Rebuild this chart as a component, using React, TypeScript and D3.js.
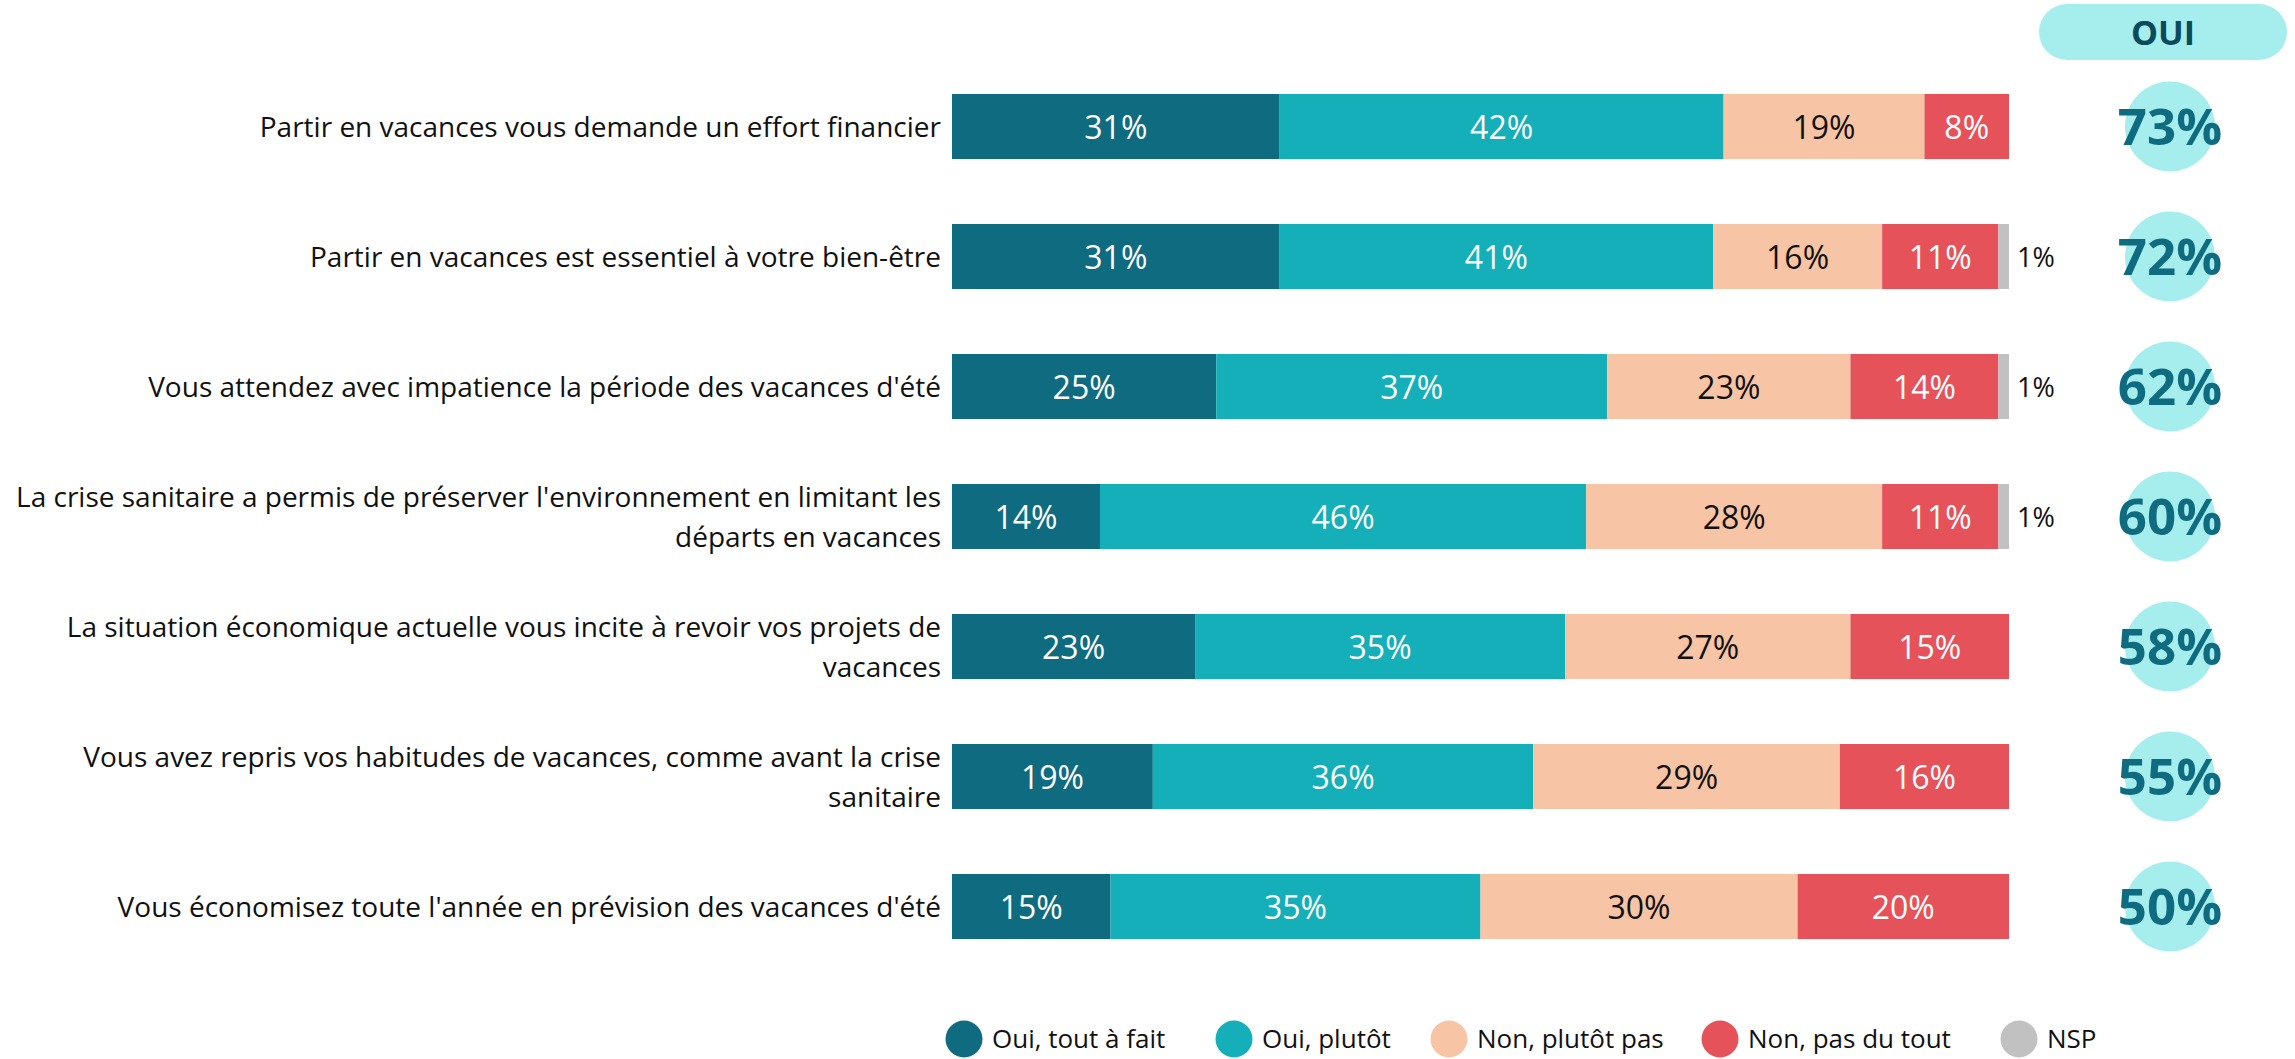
import React, { useEffect, useRef } from 'react';
import * as d3 from 'd3';

// categories (lines split where the original wraps)
const categories = [
  ['Partir en vacances vous demande un effort financier'],
  ['Partir en vacances est essentiel à votre bien-être'],
  ["Vous attendez avec impatience la période des vacances d'été"],
  ["La crise sanitaire a permis de préserver l'environnement en limitant les", 'départs en vacances'],
  ['La situation économique actuelle vous incite à revoir vos projets de', 'vacances'],
  ['Vous avez repris vos habitudes de vacances, comme avant la crise', 'sanitaire'],
  ["Vous économisez toute l'année en prévision des vacances d'été"],
];

const seriesNames = ['Oui, tout à fait', 'Oui, plutôt', 'Non, plutôt pas', 'Non, pas du tout', 'NSP'];
const ouiToutAFait = [31, 31, 25, 14, 23, 19, 15];
const ouiPlutot = [42, 41, 37, 46, 35, 36, 35];
const nonPlutotPas = [19, 16, 23, 28, 27, 29, 30];
const nonPasDuTout = [8, 11, 14, 11, 15, 16, 20];
const nsp = [0, 1, 1, 1, 0, 0, 0];
const ouiTotal = [73, 72, 62, 60, 58, 55, 50];

const colors = ['#0f6b80', '#14afb8', '#f7c4a5', '#e6525a', '#c1c1c1'];
const labelColors = ['#ffffff', '#ffffff', '#111111', '#ffffff', '#111111'];
const FONT = "'Open Sans', 'Noto Sans', sans-serif";

export default function App() {
  const ref = useRef<SVGSVGElement>(null);

  useEffect(() => {
    const width = 2295;
    const height = 1059;
    const svg = d3.select(ref.current);
    svg.selectAll('*').remove();
    svg.attr('width', width).attr('height', height);

    const values = [ouiToutAFait, ouiPlutot, nonPlutotPas, nonPasDuTout, nsp];
    const rows = categories.map((c, i) => {
      const r: any = { i };
      values.forEach((v, k) => (r['s' + k] = v[i]));
      return r;
    });
    const keys = values.map((_, k) => 's' + k);
    const stacked = d3.stack().keys(keys)(rows);

    const x = d3.scaleLinear().domain([0, 100]).range([952, 2009]);
    const y = d3.scaleBand<number>()
      .domain(d3.range(categories.length))
      .range([61.5, 971.5])
      .paddingInner(0.5)
      .paddingOuter(0.25);
    const bw = y.bandwidth();

    // bars
    const layer = svg.selectAll('.layer')
      .data(stacked)
      .enter().append('g')
      .attr('class', 'layer')
      .attr('fill', (d, k) => colors[k]);

    layer.selectAll('rect')
      .data(d => d.filter(s => s[1] - s[0] > 0))
      .enter().append('rect')
      .attr('x', d => x(d[0]))
      .attr('y', d => y((d as any).data.i)!)
      .attr('width', d => x(d[1]) - x(d[0]))
      .attr('height', bw);

    // labels inside the segments
    stacked.forEach((s, k) => {
      svg.append('g').selectAll('text')
        .data(s.filter(d => d[1] - d[0] >= 2))
        .enter().append('text')
        .attr('x', d => (x(d[0]) + x(d[1])) / 2)
        .attr('y', d => y((d as any).data.i)! + bw / 2 + 12)
        .attr('text-anchor', 'middle')
        .attr('font-family', FONT)
        .attr('font-size', 32)
        .attr('fill', labelColors[k])
        .text(d => (d[1] - d[0]) + '%');
    });

    // small NSP values written to the right
    const last = stacked[stacked.length - 1];
    svg.append('g').selectAll('text')
      .data(last.filter(d => d[1] - d[0] > 0 && d[1] - d[0] < 2))
      .enter().append('text')
      .attr('x', d => x(d[1]) + 8)
      .attr('y', d => y((d as any).data.i)! + bw / 2 + 10)
      .attr('font-family', FONT)
      .attr('font-size', 27)
      .attr('fill', '#111')
      .text(d => (d[1] - d[0]) + '%');

    // category labels
    const cat = svg.append('g').selectAll('text')
      .data(categories)
      .enter().append('text')
      .attr('text-anchor', 'end')
      .attr('font-family', FONT)
      .attr('font-size', 28)
      .attr('fill', '#111');
    cat.each(function (lines, i) {
      const t = d3.select(this);
      const base = y(i)! + bw / 2 + 10.5 - (lines.length - 1) * 20;
      lines.forEach((l, j) => {
        t.append('tspan').attr('x', 941).attr('y', base + j * 40).text(l);
      });
    });

    // "OUI" header pill
    svg.append('rect')
      .attr('x', 2039).attr('y', 4)
      .attr('width', 248).attr('height', 56)
      .attr('rx', 28)
      .attr('fill', '#a6eeee');
    svg.append('text')
      .attr('x', 2163).attr('y', 45)
      .attr('text-anchor', 'middle')
      .attr('font-family', FONT)
      .attr('font-weight', 'bold')
      .attr('font-size', 34)
      .attr('fill', '#0b4a5a')
      .text('OUI');

    // totals in circles
    const tot = svg.append('g').selectAll('g')
      .data(ouiTotal)
      .enter().append('g')
      .attr('transform', (d, i) => 'translate(2170,' + (y(i)! + bw / 2) + ')');
    tot.append('circle').attr('r', 45).attr('fill', '#a6eeee');
    tot.append('text')
      .attr('y', 18)
      .attr('text-anchor', 'middle')
      .attr('font-family', FONT)
      .attr('font-weight', 'bold')
      .attr('font-size', 51)
      .attr('fill', '#0f6b80')
      .text(d => d + '%');

    // legend
    const legendX = [964, 1234, 1449, 1720, 2019];
    const leg = svg.append('g').selectAll('g')
      .data(seriesNames)
      .enter().append('g')
      .attr('transform', (d, k) => 'translate(' + legendX[k] + ',1039)');
    leg.append('circle').attr('r', 18.5).attr('fill', (d, k) => colors[k]);
    leg.append('text')
      .attr('x', 28).attr('y', 9)
      .attr('font-family', FONT)
      .attr('font-size', 26)
      .attr('fill', '#111')
      .text(d => d);
  }, []);

  return (
    <div style={{ position: 'absolute', left: 0, top: 0 }}>
      <svg ref={ref}></svg>
    </div>
  );
}
